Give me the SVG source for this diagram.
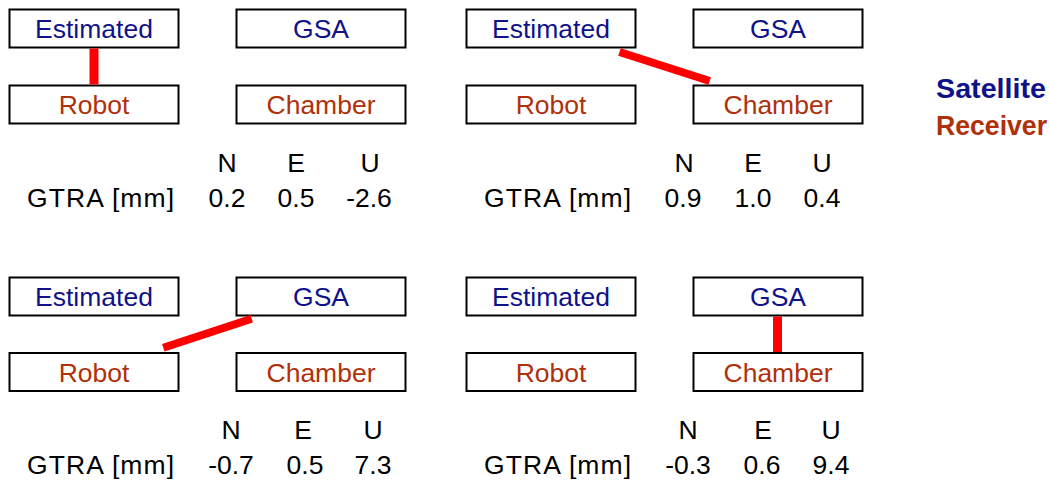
<svg xmlns="http://www.w3.org/2000/svg" width="1049" height="483" viewBox="0 0 1049 483">
<style>
rect.box{fill:#fff;stroke:#000;stroke-width:2}
text{font-family:"Liberation Sans",Arial,sans-serif;font-size:26.5px}
.sat{fill:#0f128a;text-anchor:middle}
.rec{fill:#b0300a;text-anchor:middle}
.hd,.val{fill:#000;text-anchor:middle}
.lbl{fill:#000}
.link{stroke:#ff0000;stroke-width:9;fill:none}
.leg{font-weight:bold;font-size:27.5px}
</style>
<rect width="1049" height="483" fill="#fff"/>

<!-- Panel 1 -->
<g id="p1-estimated"><rect class="box" x="9.5" y="9.5" width="169" height="38"/><text class="sat" x="94" y="38">Estimated</text></g>
<g id="p1-gsa"><rect class="box" x="236.5" y="9.5" width="169" height="38"/><text class="sat" x="321" y="38">GSA</text></g>
<g id="p1-robot"><rect class="box" x="9.5" y="85.5" width="169" height="38"/><text class="rec" x="94" y="113.5">Robot</text></g>
<g id="p1-chamber"><rect class="box" x="236.5" y="85.5" width="169" height="38"/><text class="rec" x="321" y="113.5">Chamber</text></g>
<g id="p1-table">
<text class="hd" x="227" y="172">N</text><text class="hd" x="296" y="172">E</text><text class="hd" x="370" y="172">U</text>
<text class="lbl" x="27" y="207" textLength="147" lengthAdjust="spacing">GTRA [mm]</text>
<text class="val" x="227" y="207">0.2</text><text class="val" x="296" y="207">0.5</text><text class="val" x="369" y="207">-2.6</text>
</g>

<!-- Panel 2 -->
<g id="p2-estimated"><rect class="box" x="466.5" y="9.5" width="169" height="38"/><text class="sat" x="551" y="38">Estimated</text></g>
<g id="p2-gsa"><rect class="box" x="693.5" y="9.5" width="169" height="38"/><text class="sat" x="778" y="38">GSA</text></g>
<g id="p2-robot"><rect class="box" x="466.5" y="85.5" width="169" height="38"/><text class="rec" x="551" y="113.5">Robot</text></g>
<g id="p2-chamber"><rect class="box" x="693.5" y="85.5" width="169" height="38"/><text class="rec" x="778" y="113.5">Chamber</text></g>
<g id="p2-table">
<text class="hd" x="684" y="172">N</text><text class="hd" x="753" y="172">E</text><text class="hd" x="822" y="172">U</text>
<text class="lbl" x="484" y="207" textLength="147" lengthAdjust="spacing">GTRA [mm]</text>
<text class="val" x="683" y="207">0.9</text><text class="val" x="753" y="207">1.0</text><text class="val" x="822" y="207">0.4</text>
</g>

<!-- Panel 3 -->
<g id="p3-estimated"><rect class="box" x="9.5" y="277.5" width="169" height="38"/><text class="sat" x="94" y="306">Estimated</text></g>
<g id="p3-gsa"><rect class="box" x="236.5" y="277.5" width="169" height="38"/><text class="sat" x="321" y="306">GSA</text></g>
<g id="p3-robot"><rect class="box" x="9.5" y="353" width="169" height="38"/><text class="rec" x="94" y="381.5">Robot</text></g>
<g id="p3-chamber"><rect class="box" x="236.5" y="353" width="169" height="38"/><text class="rec" x="321" y="381.5">Chamber</text></g>
<g id="p3-table">
<text class="hd" x="231" y="439">N</text><text class="hd" x="303" y="439">E</text><text class="hd" x="373" y="439">U</text>
<text class="lbl" x="27" y="474" textLength="147" lengthAdjust="spacing">GTRA [mm]</text>
<text class="val" x="231" y="474">-0.7</text><text class="val" x="305" y="474">0.5</text><text class="val" x="373" y="474">7.3</text>
</g>

<!-- Panel 4 -->
<g id="p4-estimated"><rect class="box" x="466.5" y="277.5" width="169" height="38"/><text class="sat" x="551" y="306">Estimated</text></g>
<g id="p4-gsa"><rect class="box" x="693.5" y="277.5" width="169" height="38"/><text class="sat" x="778" y="306">GSA</text></g>
<g id="p4-robot"><rect class="box" x="466.5" y="353" width="169" height="38"/><text class="rec" x="551" y="381.5">Robot</text></g>
<g id="p4-chamber"><rect class="box" x="693.5" y="353" width="169" height="38"/><text class="rec" x="778" y="381.5">Chamber</text></g>
<g id="p4-table">
<text class="hd" x="688" y="439">N</text><text class="hd" x="763" y="439">E</text><text class="hd" x="831" y="439">U</text>
<text class="lbl" x="484" y="474" textLength="147" lengthAdjust="spacing">GTRA [mm]</text>
<text class="val" x="688" y="474">-0.3</text><text class="val" x="762" y="474">0.6</text><text class="val" x="831" y="474">9.4</text>
</g>

<!-- Connectors -->
<g id="connectors">
<line class="link" x1="94" y1="48.5" x2="94" y2="84.5"/>
<line class="link" x1="619.5" y1="52" x2="709.7" y2="81" style="stroke-width:8"/>
<line class="link" x1="163.3" y1="347.7" x2="251.7" y2="318.7" style="stroke-width:8"/>
<line class="link" x1="777.5" y1="316.5" x2="777.5" y2="352"/>
</g>

<!-- Legend -->
<g id="legend">
<text class="leg" x="936" y="98" fill="#0f128a" textLength="110" lengthAdjust="spacingAndGlyphs">Satellite</text>
<text class="leg" x="936" y="135" fill="#b0300a" textLength="111" lengthAdjust="spacingAndGlyphs">Receiver</text>
</g>
</svg>
